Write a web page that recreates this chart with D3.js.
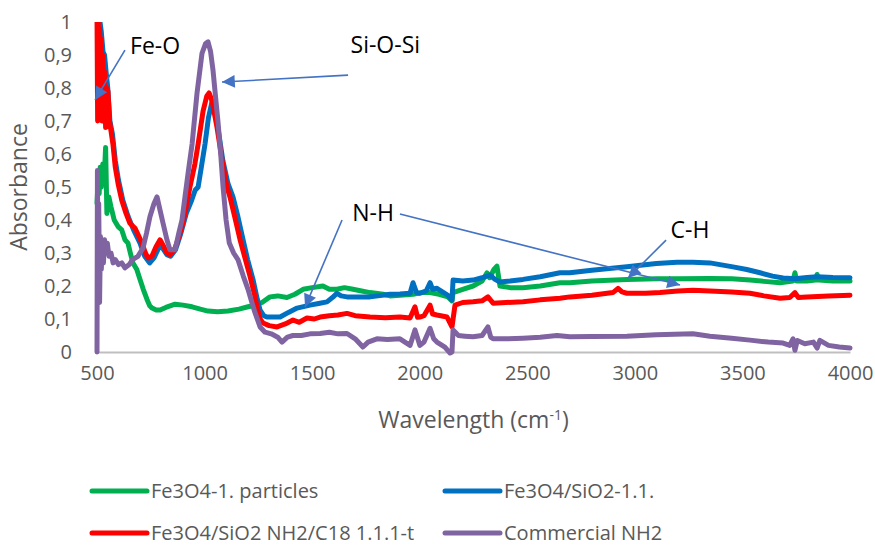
<!DOCTYPE html>
<html>
<head>
<meta charset="utf-8">
<script src="https://cdn.jsdelivr.net/npm/d3@7"></script>
<style>
  body { margin: 0; background: #fff; }
  text { font-family: "Open Sans", sans-serif; }
</style>
</head>
<body>
<div id="chart"></div>
<script>
// spectra: [wavenumber, absorbance]
var fe3o4 = [[500,0.45],[505,0.52],[510,0.48],[515,0.56],[520,0.5],[527,0.57],[533,0.52],[540,0.62],[546,0.42],[555,0.47],[565,0.44],[580,0.4],[598,0.38],[615,0.37],[630,0.34],[644,0.33],[655,0.3],[667,0.27],[685,0.25],[700,0.22],[715,0.19],[732,0.16],[745,0.14],[756,0.133],[775,0.127],[793,0.127],[820,0.135],[863,0.145],[900,0.142],[942,0.137],[980,0.13],[1016,0.124],[1060,0.122],[1109,0.124],[1160,0.13],[1202,0.137],[1225,0.14],[1267,0.15],[1304,0.167],[1340,0.17],[1383,0.165],[1420,0.175],[1458,0.19],[1500,0.195],[1550,0.2],[1580,0.19],[1615,0.19],[1650,0.195],[1690,0.19],[1730,0.185],[1769,0.18],[1830,0.175],[1862,0.17],[1908,0.172],[1969,0.175],[2010,0.18],[2048,0.18],[2090,0.175],[2131,0.167],[2150,0.155],[2155,0.18],[2200,0.19],[2248,0.2],[2290,0.215],[2313,0.24],[2325,0.225],[2345,0.25],[2359,0.26],[2373,0.2],[2420,0.195],[2480,0.195],[2560,0.2],[2652,0.21],[2698,0.21],[2800,0.215],[2963,0.22],[3100,0.222],[3200,0.222],[3349,0.223],[3450,0.222],[3535,0.218],[3600,0.214],[3675,0.21],[3735,0.215],[3744,0.24],[3752,0.215],[3800,0.215],[3840,0.218],[3847,0.235],[3855,0.218],[3920,0.215],[4000,0.215]];

var fe3o4SiO2 = [[500,1.05],[510,1.02],[520,0.97],[528,0.91],[535,0.9],[542,0.85],[550,0.8],[560,0.7],[572,0.66],[585,0.58],[600,0.52],[620,0.46],[645,0.41],[670,0.37],[700,0.33],[722,0.29],[745,0.27],[765,0.285],[790,0.32],[805,0.315],[825,0.295],[842,0.29],[865,0.31],[890,0.36],[915,0.42],[940,0.46],[956,0.49],[970,0.5],[985,0.56],[1002,0.63],[1018,0.71],[1035,0.76],[1048,0.73],[1062,0.68],[1085,0.58],[1109,0.51],[1132,0.47],[1155,0.41],[1179,0.34],[1200,0.28],[1225,0.22],[1245,0.16],[1258,0.127],[1275,0.11],[1290,0.106],[1351,0.106],[1390,0.12],[1430,0.133],[1490,0.142],[1530,0.147],[1569,0.152],[1600,0.168],[1615,0.178],[1635,0.17],[1662,0.167],[1769,0.167],[1862,0.175],[1908,0.176],[1955,0.178],[1969,0.21],[1985,0.18],[2001,0.178],[2030,0.185],[2048,0.21],[2060,0.19],[2080,0.193],[2131,0.172],[2150,0.157],[2155,0.218],[2200,0.215],[2248,0.218],[2290,0.225],[2327,0.233],[2350,0.22],[2373,0.212],[2420,0.215],[2480,0.22],[2560,0.228],[2652,0.24],[2698,0.24],[2800,0.248],[2963,0.258],[3100,0.268],[3196,0.272],[3270,0.272],[3349,0.27],[3456,0.258],[3520,0.25],[3582,0.24],[3640,0.23],[3689,0.224],[3744,0.222],[3800,0.226],[3847,0.228],[3920,0.226],[4000,0.225]];

var fe3o4C18 = [[500,1.02],[503,0.7],[506,1.0],[509,0.72],[512,0.98],[515,0.75],[519,0.95],[523,0.7],[527,0.9],[531,0.75],[535,0.85],[540,0.68],[545,0.8],[551,0.79],[558,0.7],[565,0.67],[574,0.63],[585,0.56],[598,0.51],[615,0.46],[635,0.42],[653,0.39],[677,0.375],[695,0.35],[709,0.33],[725,0.3],[737,0.285],[755,0.29],[775,0.32],[793,0.34],[810,0.32],[825,0.3],[839,0.295],[860,0.31],[876,0.34],[895,0.38],[909,0.42],[932,0.5],[955,0.57],[970,0.63],[993,0.73],[1010,0.775],[1021,0.785],[1035,0.76],[1058,0.68],[1082,0.58],[1104,0.5],[1118,0.47],[1140,0.41],[1165,0.34],[1190,0.28],[1211,0.23],[1230,0.18],[1244,0.137],[1258,0.1],[1272,0.088],[1300,0.08],[1337,0.076],[1375,0.085],[1411,0.097],[1440,0.09],[1476,0.103],[1510,0.1],[1537,0.106],[1580,0.11],[1620,0.112],[1662,0.117],[1700,0.11],[1769,0.106],[1840,0.104],[1908,0.106],[1955,0.103],[1978,0.137],[1990,0.105],[2001,0.106],[2020,0.11],[2048,0.142],[2060,0.115],[2080,0.112],[2127,0.106],[2150,0.076],[2164,0.142],[2200,0.15],[2248,0.152],[2290,0.155],[2317,0.167],[2341,0.148],[2400,0.15],[2480,0.152],[2560,0.158],[2652,0.163],[2698,0.167],[2800,0.172],[2898,0.18],[2922,0.193],[2940,0.182],[2963,0.178],[3050,0.178],[3117,0.18],[3200,0.185],[3270,0.187],[3349,0.185],[3450,0.182],[3535,0.178],[3600,0.17],[3675,0.163],[3720,0.165],[3744,0.18],[3760,0.165],[3800,0.167],[3900,0.17],[4000,0.172]];

var commercialNH2 = [[500,0],[502,0.55],[505,0.2],[508,0.45],[512,0.15],[516,0.35],[520,0.25],[525,0.32],[530,0.27],[535,0.34],[540,0.3],[548,0.33],[556,0.29],[565,0.3],[575,0.27],[585,0.28],[600,0.265],[615,0.27],[630,0.255],[650,0.265],[665,0.28],[690,0.29],[714,0.315],[730,0.36],[746,0.41],[765,0.45],[779,0.47],[793,0.43],[807,0.39],[825,0.34],[839,0.31],[863,0.31],[880,0.36],[895,0.4],[909,0.47],[925,0.55],[942,0.63],[965,0.785],[988,0.905],[1005,0.935],[1016,0.94],[1028,0.91],[1039,0.855],[1050,0.78],[1062,0.7],[1075,0.6],[1086,0.5],[1100,0.4],[1115,0.33],[1135,0.3],[1155,0.28],[1180,0.23],[1202,0.19],[1220,0.15],[1234,0.12],[1258,0.076],[1281,0.06],[1310,0.055],[1340,0.045],[1360,0.03],[1385,0.045],[1411,0.05],[1450,0.05],[1490,0.055],[1537,0.056],[1580,0.06],[1620,0.055],[1662,0.056],[1700,0.04],[1736,0.015],[1760,0.03],[1801,0.04],[1850,0.038],[1908,0.04],[1955,0.02],[1978,0.067],[2001,0.02],[2020,0.03],[2048,0.072],[2065,0.04],[2080,0.03],[2117,0.015],[2130,0.005],[2141,-0.003],[2150,0],[2155,0.067],[2180,0.05],[2210,0.048],[2248,0.046],[2290,0.05],[2317,0.076],[2330,0.045],[2341,0.04],[2400,0.04],[2480,0.042],[2560,0.045],[2638,0.05],[2698,0.046],[2800,0.047],[2963,0.048],[3100,0.052],[3270,0.055],[3349,0.048],[3450,0.042],[3535,0.036],[3620,0.03],[3689,0.027],[3720,0.02],[3735,0.04],[3744,0.005],[3755,0.035],[3790,0.025],[3830,0.03],[3847,0.012],[3860,0.035],[3900,0.02],[3950,0.015],[4000,0.012]];

var seriesNames = ['Fe3O4-1. particles', 'Fe3O4/SiO2-1.1.', 'Fe3O4/SiO2 NH2/C18 1.1.1-t', 'Commercial NH2'];
var seriesColors = ['#00b050', '#0070c0', '#ff0000', '#8064a2'];
var xTicks = [500, 1000, 1500, 2000, 2500, 3000, 3500, 4000];
var yTicks = [0, 0.1, 0.2, 0.3, 0.4, 0.5, 0.6, 0.7, 0.8, 0.9, 1];

// peak labels: text anchor and arrows [from, to] in data units
var labels = [
  { text: 'Fe-O', at: [770, 0.903], arrows: [[[630, 0.915], [491, 0.764]]] },
  { text: 'Si-O-Si', at: [1840, 0.906], arrows: [[[1667, 0.839], [1081, 0.818]]] },
  { text: 'N-H', at: [1783, 0.397], arrows: [[[1639, 0.4], [1467, 0.136]], [[1908, 0.418], [3210, 0.203]]] },
  { text: 'C-H', at: [3256, 0.345], arrows: [[[3145, 0.339], [2968, 0.224]]] }
];

var W = 875, H = 548;
var margin = {top: 22, right: 25, bottom: 196, left: 97},
    width = W - margin.left - margin.right,
    height = H - margin.top - margin.bottom;

var svg = d3.select('#chart').append('svg')
    .attr('width', W)
    .attr('height', H);

var g = svg.append('g')
    .attr('transform', 'translate(' + margin.left + ',' + margin.top + ')');

var x = d3.scaleLinear().domain([500, 4000]).range([0, width]);
var y = d3.scaleLinear().domain([0, 1]).range([height, 0]);

var comma = d3.formatLocale({decimal: ',', thousands: '.', grouping: [3], currency: ['', '']}).format('~g');

// bottom axis: gray line, no ticks
var xAxis = g.append('g')
    .attr('transform', 'translate(0,' + height + ')')
    .call(d3.axisBottom(x).tickValues(xTicks).tickSize(0).tickPadding(14).tickFormat(d3.format('d')));
xAxis.select('.domain').attr('stroke', '#bfbfbf').attr('stroke-width', 2);
xAxis.selectAll('text').attr('fill', '#595959').style('font-size', '20px');

var yAxis = g.append('g')
    .call(d3.axisLeft(y).tickValues(yTicks).tickSize(0).tickPadding(25).tickFormat(comma));
yAxis.select('.domain').remove();
yAxis.selectAll('text').attr('fill', '#595959').style('font-size', '20px');

// axis titles
svg.append('text')
    .attr('transform', 'translate(27,' + (margin.top + height / 2) + ') rotate(-90)')
    .attr('text-anchor', 'middle')
    .attr('fill', '#595959')
    .style('font-size', '23px')
    .text('Absorbance');

var xt = svg.append('text')
    .attr('x', margin.left + width / 2)
    .attr('y', 428)
    .attr('text-anchor', 'middle')
    .attr('fill', '#595959')
    .style('font-size', '23px');
xt.append('tspan').text('Wavelength (cm');
xt.append('tspan').attr('dy', -8).style('font-size', '14px').text('-1');
xt.append('tspan').attr('dy', 8).text(')');

// lines
svg.append('defs').append('clipPath').attr('id', 'plot-clip')
  .append('rect').attr('x', -4).attr('y', 0).attr('width', width + 8).attr('height', height + 4);

var line = d3.line().x(d => x(d[0])).y(d => y(d[1]));
var allSeries = [fe3o4, fe3o4SiO2, fe3o4C18, commercialNH2];

g.append('g').attr('clip-path', 'url(#plot-clip)')
  .selectAll('path')
  .data(allSeries)
  .enter().append('path')
    .attr('d', line)
    .attr('fill', 'none')
    .attr('stroke', (d, i) => seriesColors[i])
    .attr('stroke-width', 5)
    .attr('stroke-linejoin', 'round')
    .attr('stroke-linecap', 'round');

// annotations
svg.append('defs').append('marker')
    .attr('id', 'head')
    .attr('viewBox', '0 0 10 10')
    .attr('refX', 10).attr('refY', 5)
    .attr('markerWidth', 9).attr('markerHeight', 8)
    .attr('markerUnits', 'strokeWidth')
    .attr('orient', 'auto')
  .append('path')
    .attr('d', 'M0,0L10,5L0,10Z')
    .attr('fill', '#4472c4');

labels.forEach(function(l) {
  l.arrows.forEach(function(a) {
    g.append('line')
      .attr('x1', x(a[0][0])).attr('y1', y(a[0][1]))
      .attr('x2', x(a[1][0])).attr('y2', y(a[1][1]))
      .attr('stroke', '#4472c4')
      .attr('stroke-width', 1.6)
      .attr('marker-end', 'url(#head)');
  });
  g.append('text')
    .attr('x', x(l.at[0]))
    .attr('y', y(l.at[1]))
    .attr('text-anchor', 'middle')
    .attr('fill', '#000')
    .style('font-size', '23px')
    .text(l.text);
});

// legend, two rows of two
var legend = svg.append('g');
var items = legend.selectAll('g')
  .data(seriesNames)
  .enter().append('g')
    .attr('transform', (d, i) => 'translate(' + (i % 2 ? 445 : 92) + ',' + (i < 2 ? 491 : 533) + ')');
items.append('line')
    .attr('x1', 0).attr('x2', 55)
    .attr('stroke', (d, i) => seriesColors[i])
    .attr('stroke-width', 5)
    .attr('stroke-linecap', 'round');
items.append('text')
    .attr('x', 59)
    .attr('dy', '0.35em')
    .attr('fill', '#595959')
    .style('font-size', '20px')
    .text(d => d);
</script>
</body>
</html>
